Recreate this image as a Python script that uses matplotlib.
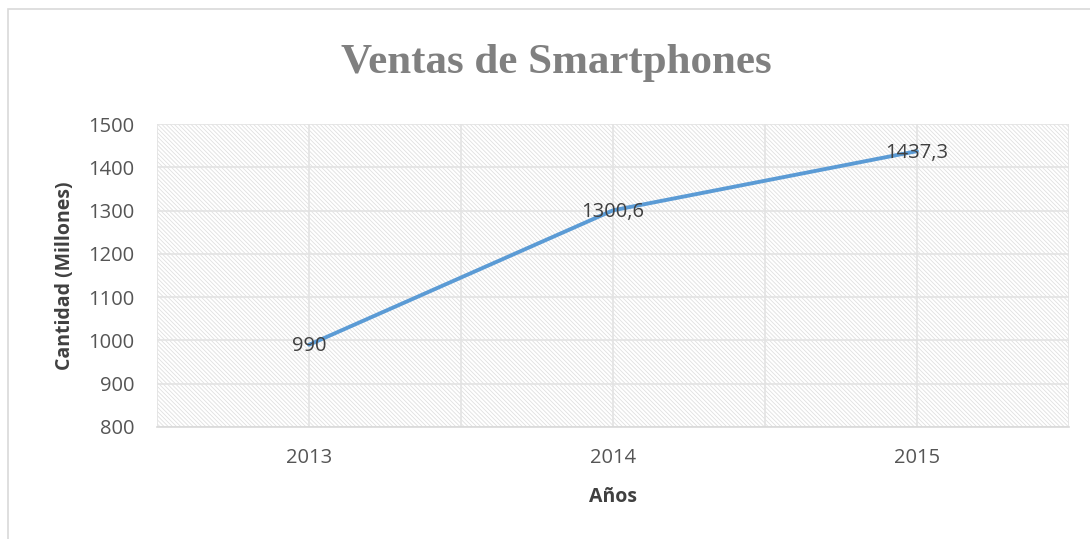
import matplotlib.pyplot as plt
from matplotlib.patches import Rectangle

# Data
years = ["2013", "2014", "2015"]
ventas = [990, 1300.6, 1437.3]
etiquetas = ["990", "1300,6", "1437,3"]
y_ticks = [800, 900, 1000, 1100, 1200, 1300, 1400, 1500]

plt.rcParams["hatch.linewidth"] = 0.6
plt.rcParams["hatch.color"] = "#e0e0e0"

fig = plt.figure(figsize=(10.9, 5.39), dpi=100)
ax = fig.add_axes([157 / 1090, 1 - 427 / 539, 912 / 1090, 303 / 539])

# outer chart border (cropped on right and bottom)
fig.patches.append(Rectangle((8 / 1090, -0.2), 1.2, 1 - 9 / 539 + 0.2,
                             transform=fig.transFigure, fill=False,
                             edgecolor="#d9d9d9", linewidth=1.2, zorder=0))

x = list(range(len(years)))
ax.set_xlim(-0.5, len(years) - 0.5)
ax.set_ylim(800, 1500)

# hatched plot area
ax.add_patch(Rectangle((0, 0), 1, 1, transform=ax.transAxes, facecolor="white",
                       hatch="\\\\\\\\\\\\\\\\", edgecolor="#e0e0e0", linewidth=0, zorder=0))

for yv in y_ticks:
    ax.axhline(yv, color="#e3e3e3", linewidth=1.2, zorder=1)
for xv in [-0.5, 0, 0.5, 1, 1.5, 2, 2.5]:
    ax.axvline(xv, color="#e3e3e3", linewidth=1.2, zorder=1)

ax.plot(x, ventas, color="#5b9bd5", linewidth=2.8, solid_capstyle="round", zorder=3)
for xi, v, lab in zip(x, ventas, etiquetas):
    ax.text(xi, v - 4, lab, ha="center", va="center", fontsize=14.5,
            color="#404040", family="Open Sans", zorder=4)

ax.set_xticks(x)
ax.set_xticklabels(years, family="Open Sans", fontsize=14.5, color="#555555")
ax.set_yticks(y_ticks)
ax.set_yticklabels([str(v) for v in y_ticks], family="Open Sans", fontsize=14.5, color="#555555")
ax.tick_params(axis="y", length=0, pad=16)
ax.tick_params(axis="x", length=0, pad=15)

for side in ["top", "left", "right"]:
    ax.spines[side].set_visible(False)
ax.spines["bottom"].set_color("#d9d9d9")
ax.spines["bottom"].set_linewidth(1.2)

ax.set_xlabel("Años", family="Open Sans", fontsize=14, fontweight="bold",
              color="#404040", labelpad=14)
ax.set_ylabel("Cantidad (Millones)", family="Open Sans", fontsize=14,
              fontweight="bold", color="#404040", labelpad=10)

fig.text(0.51, 1 - 63 / 539, "Ventas de Smartphones", ha="center", va="center",
         family="Liberation Serif", fontsize=31, fontweight="bold", color="#808080")

fig.savefig("out.png", dpi=100)
